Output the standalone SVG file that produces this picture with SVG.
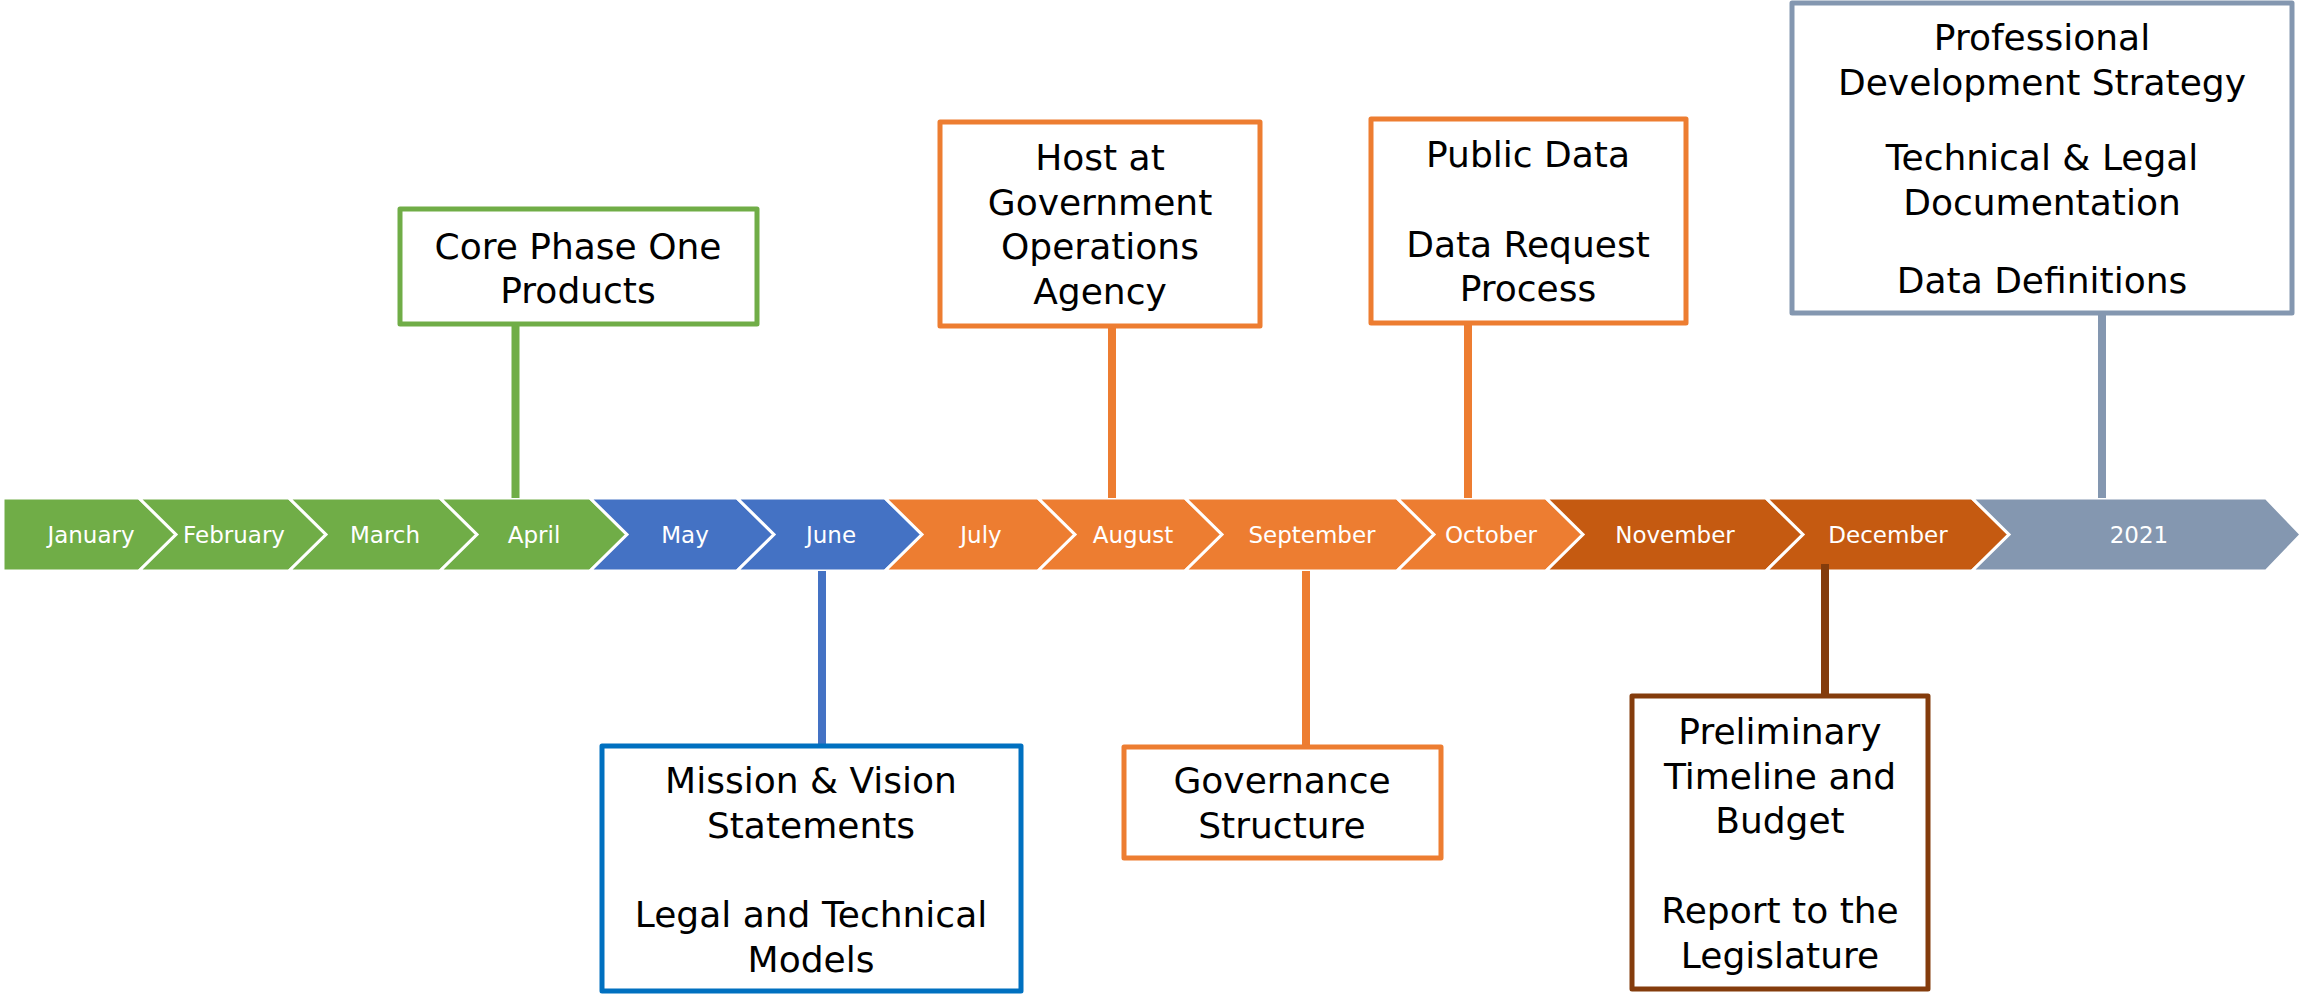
<svg xmlns="http://www.w3.org/2000/svg" width="2299" height="994" viewBox="0 0 2299 994">
<style>
.seg{stroke:#fff;stroke-width:3;stroke-linejoin:miter}
.mon{font-family:"DejaVu Sans","Liberation Sans",sans-serif;font-size:23px;fill:#fff;text-anchor:middle}
.box{fill:#fff;stroke-width:5;stroke-linejoin:round}
.txt{font-family:"DejaVu Sans","Liberation Sans",sans-serif;font-size:36px;fill:#000;text-anchor:middle}
.stem{stroke-width:8;fill:none}
.g{fill:#70AD47}.b{fill:#4472C4}.o{fill:#ED7D31}.r{fill:#C55A11}.s{fill:#8497B0}
</style>
<rect width="2299" height="994" fill="#fff"/>
<g id="timeline">
<g id="jan"><polygon class="seg g" points="3,498 139,498 176,534.5 139,571 3,571"/><text class="mon" x="91" y="543">January</text></g>
<g id="feb"><polygon class="seg g" points="139,498 289,498 326,534.5 289,571 139,571 176,534.5"/><text class="mon" x="234" y="543">February</text></g>
<g id="mar"><polygon class="seg g" points="289,498 440,498 477,534.5 440,571 289,571 326,534.5"/><text class="mon" x="385" y="543">March</text></g>
<g id="apr"><polygon class="seg g" points="440,498 590,498 627,534.5 590,571 440,571 477,534.5"/><text class="mon" x="534" y="543">April</text></g>
<g id="may"><polygon class="seg b" points="590,498 737,498 774,534.5 737,571 590,571 627,534.5"/><text class="mon" x="685" y="543">May</text></g>
<g id="jun"><polygon class="seg b" points="737,498 885,498 922,534.5 885,571 737,571 774,534.5"/><text class="mon" x="831" y="543">June</text></g>
<g id="jul"><polygon class="seg o" points="885,498 1038,498 1075,534.5 1038,571 885,571 922,534.5"/><text class="mon" x="981" y="543">July</text></g>
<g id="aug"><polygon class="seg o" points="1038,498 1185,498 1222,534.5 1185,571 1038,571 1075,534.5"/><text class="mon" x="1133" y="543">August</text></g>
<g id="sep"><polygon class="seg o" points="1185,498 1397,498 1434,534.5 1397,571 1185,571 1222,534.5"/><text class="mon" x="1312" y="543">September</text></g>
<g id="oct"><polygon class="seg o" points="1397,498 1546,498 1583,534.5 1546,571 1397,571 1434,534.5"/><text class="mon" x="1491" y="543">October</text></g>
<g id="nov"><polygon class="seg r" points="1546,498 1766,498 1803,534.5 1766,571 1546,571 1583,534.5"/><text class="mon" x="1675" y="543">November</text></g>
<g id="dec"><polygon class="seg r" points="1766,498 1972,498 2009,534.5 1972,571 1766,571 1803,534.5"/><text class="mon" x="1888" y="543">December</text></g>
<g id="y2021"><polygon class="seg s" points="1972,498 2266,498 2301,534.5 2266,571 1972,571 2009,534.5"/><text class="mon" x="2139" y="543">2021</text></g>
</g>
<g id="connectors">
<line class="stem" x1="515.5" y1="324" x2="515.5" y2="498" stroke="#70AD47"/>
<line class="stem" x1="1112" y1="326" x2="1112" y2="498" stroke="#ED7D31"/>
<line class="stem" x1="1468" y1="323" x2="1468" y2="498" stroke="#ED7D31"/>
<line class="stem" x1="2102" y1="313" x2="2102" y2="498" stroke="#8497B0"/>
<line class="stem" x1="822" y1="571" x2="822" y2="746" stroke="#4472C4"/>
<line class="stem" x1="1306" y1="571" x2="1306" y2="747" stroke="#ED7D31"/>
<line class="stem" x1="1825" y1="564" x2="1825" y2="696" stroke="#843C0C"/>
</g>
<g id="core">
<rect class="box" x="400" y="209" width="357" height="115" stroke="#70AD47"/>
<text class="txt" x="578" y="259">Core Phase One</text>
<text class="txt" x="578" y="303">Products</text>
</g>
<g id="host">
<rect class="box" x="940" y="122" width="320" height="204" stroke="#ED7D31"/>
<text class="txt" x="1100" y="170">Host at</text>
<text class="txt" x="1100" y="214.5">Government</text>
<text class="txt" x="1100" y="259">Operations</text>
<text class="txt" x="1100" y="303.5">Agency</text>
</g>
<g id="public">
<rect class="box" x="1371" y="119" width="315" height="204" stroke="#ED7D31"/>
<text class="txt" x="1528" y="167">Public Data</text>
<text class="txt" x="1528" y="257">Data Request</text>
<text class="txt" x="1528" y="301">Process</text>
</g>
<g id="prof">
<rect class="box" x="1792" y="3" width="500" height="310" stroke="#8497B0"/>
<text class="txt" x="2042" y="50">Professional</text>
<text class="txt" x="2042" y="95">Development Strategy</text>
<text class="txt" x="2042" y="170">Technical &amp; Legal</text>
<text class="txt" x="2042" y="215">Documentation</text>
<text class="txt" x="2042" y="293">Data Definitions</text>
</g>
<g id="mission">
<rect class="box" x="602" y="746" width="419" height="245" stroke="#0070C0"/>
<text class="txt" x="811" y="793">Mission &amp; Vision</text>
<text class="txt" x="811" y="838">Statements</text>
<text class="txt" x="811" y="927">Legal and Technical</text>
<text class="txt" x="811" y="972">Models</text>
</g>
<g id="governance">
<rect class="box" x="1124" y="747" width="317" height="111" stroke="#ED7D31"/>
<text class="txt" x="1282" y="793">Governance</text>
<text class="txt" x="1282" y="838">Structure</text>
</g>
<g id="prelim">
<rect class="box" x="1632" y="696" width="296" height="293" stroke="#843C0C"/>
<text class="txt" x="1780" y="744">Preliminary</text>
<text class="txt" x="1780" y="789">Timeline and</text>
<text class="txt" x="1780" y="833">Budget</text>
<text class="txt" x="1780" y="923">Report to the</text>
<text class="txt" x="1780" y="968">Legislature</text>
</g>
</svg>
